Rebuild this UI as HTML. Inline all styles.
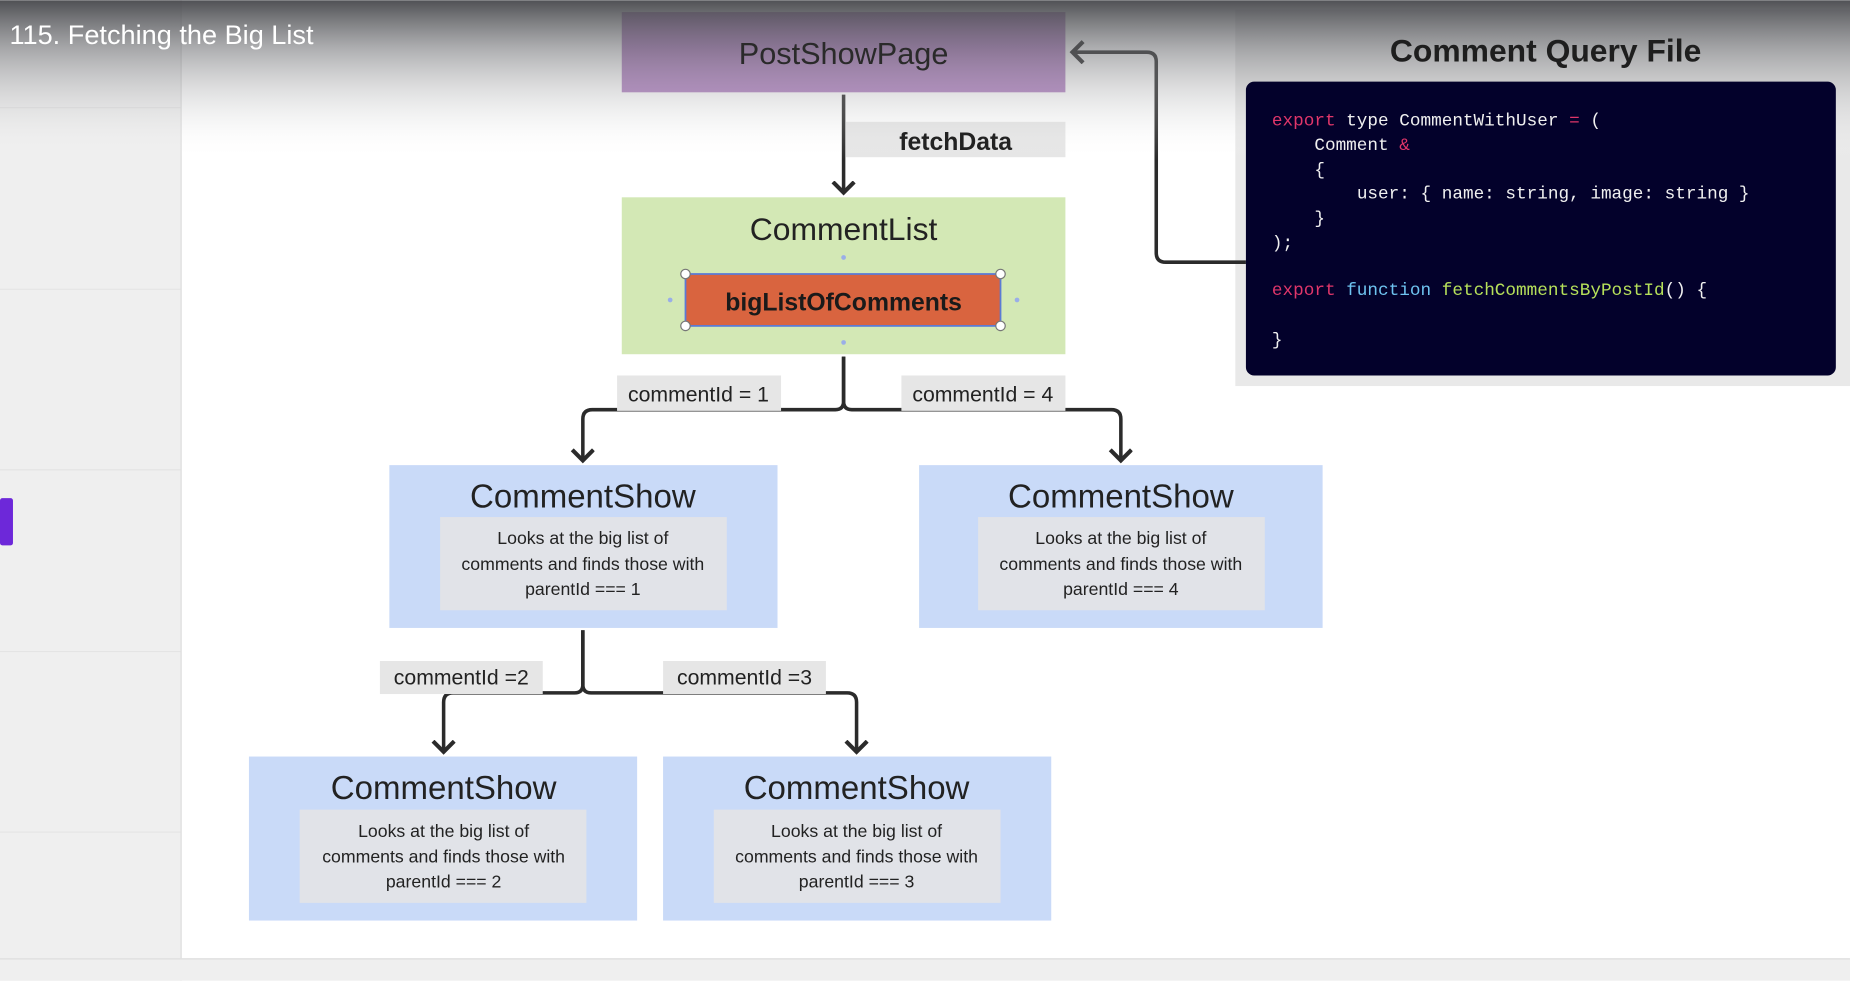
<!DOCTYPE html>
<html><head><meta charset="utf-8"><style>
html,body{margin:0;padding:0;background:#fff;overflow:hidden}
svg{display:block}
</style></head><body>
<svg width="1850" height="981" viewBox="0 0 1568 831" xmlns="http://www.w3.org/2000/svg">
<defs>
<linearGradient id="ov" x1="0" y1="0" x2="0" y2="1">
<stop offset="0" stop-color="#47484c" stop-opacity="0.95"/>
<stop offset="0.3" stop-color="#6a6b6f" stop-opacity="0.55"/>
<stop offset="1" stop-color="#ffffff" stop-opacity="0"/>
</linearGradient>
<marker id="ah" markerWidth="24" markerHeight="24" refX="10" refY="10" orient="auto" markerUnits="userSpaceOnUse"><path d="M1,1 L10,10 L1,19" fill="none" stroke="#2b2b2b" stroke-width="3.5"/></marker>
</defs>
<rect width="1568" height="831" fill="#fff"/>
<rect x="0" y="0" width="153" height="831" fill="#efefef"/>
<line x1="153.5" y1="0" x2="153.5" y2="831" stroke="#dcdcdc"/>
<g stroke="#e4e4e4">
<line x1="0" y1="91" x2="153" y2="91"/><line x1="0" y1="245" x2="153" y2="245"/><line x1="0" y1="398" x2="153" y2="398"/><line x1="0" y1="552" x2="153" y2="552"/><line x1="0" y1="705" x2="153" y2="705"/>
</g>
<rect x="0" y="422" width="11" height="40" rx="2" fill="#6d28d9"/>
<rect x="0" y="812" width="1568" height="19" fill="#efefef"/>
<line x1="0" y1="812.5" x2="1568" y2="812.5" stroke="#dedede"/>
<rect x="527" y="10" width="376" height="68" fill="#b182c2"/>
<rect x="717" y="103" width="186" height="30" fill="#e6e6e6"/>
<line x1="715" y1="80" x2="715" y2="163" stroke="#2b2b2b" stroke-width="3" marker-end="url(#ah)"/>
<rect x="1047" y="8" width="521" height="319" fill="#e9e9e9"/>
<path d="M1056,222 H988 Q980,222 980,214 V52 Q980,44 972,44 H909" fill="none" stroke="#2b2b2b" stroke-width="3" marker-end="url(#ah)"/>
<!-- top overlay -->
<rect x="0" y="0" width="1568" height="135" fill="url(#ov)"/>
<text x="715" y="54" font-family="Liberation Sans, sans-serif" font-size="26" fill="#2a2a2a" text-anchor="middle">PostShowPage</text>
<text x="810" y="127" font-family="Liberation Sans, sans-serif" font-size="21" font-weight="bold" fill="#222" text-anchor="middle">fetchData</text>
<text x="1310" y="52" font-family="Liberation Sans, sans-serif" font-size="27" font-weight="bold" fill="#1e1e1e" text-anchor="middle">Comment Query File</text>
<text x="8" y="37" font-family="Liberation Sans, sans-serif" font-size="23" fill="#fff">115. Fetching the Big List</text>
<rect x="1056" y="69" width="500" height="249" rx="7" fill="#03012b"/>
<g font-family="Liberation Mono, monospace" font-size="15" fill="#f0f0f0" xml:space="preserve">
<text x="1078" y="106"><tspan fill="#e0366a">export</tspan> type CommentWithUser <tspan fill="#e0366a">=</tspan> (</text>
<text x="1114" y="127">Comment <tspan fill="#e0366a">&amp;</tspan></text>
<text x="1114" y="148">{</text>
<text x="1150" y="168">user: { name: string, image: string }</text>
<text x="1114" y="189">}</text>
<text x="1078" y="210">);</text>
<text x="1078" y="250"><tspan fill="#e0366a">export</tspan> <tspan fill="#6ec3f0">function</tspan> <tspan fill="#b6e05a">fetchCommentsByPostId</tspan>() {</text>
<text x="1078" y="292">}</text>
</g>
<!-- CommentList -->
<rect x="527" y="167" width="376" height="133" fill="#d3e8b5"/>
<text x="715" y="203" font-family="Liberation Sans, sans-serif" font-size="27" fill="#222" text-anchor="middle">CommentList</text>
<rect x="581" y="232" width="267" height="44" fill="#d9643f" stroke="#5b7bd5" stroke-width="1.5"/>
<text x="715" y="263" font-family="Liberation Sans, sans-serif" font-size="21" font-weight="bold" fill="#1a1a1a" text-anchor="middle">bigListOfComments</text>
<g fill="#fff" stroke="#777" stroke-width="1"><circle cx="581" cy="232" r="4"/><circle cx="848" cy="232" r="4"/><circle cx="581" cy="276" r="4"/><circle cx="848" cy="276" r="4"/></g>
<g fill="#9aaee8"><circle cx="715" cy="218" r="2"/><circle cx="715" cy="290" r="2"/><circle cx="568" cy="254" r="2"/><circle cx="862" cy="254" r="2"/></g>
<path d="M715,302 V340 Q715,347 708,347 H502 Q494,347 494,355 V390" fill="none" stroke="#2b2b2b" stroke-width="3" marker-end="url(#ah)"/>
<path d="M715,302 V340 Q715,347 722,347 H942 Q950,347 950,355 V390" fill="none" stroke="#2b2b2b" stroke-width="3" marker-end="url(#ah)"/>
<rect x="523" y="318" width="139" height="30" fill="#e6e6e6"/>
<text x="592" y="340" font-family="Liberation Sans, sans-serif" font-size="18" fill="#222" text-anchor="middle">commentId = 1</text>
<rect x="764" y="318" width="139" height="30" fill="#e6e6e6"/>
<text x="833" y="340" font-family="Liberation Sans, sans-serif" font-size="18" fill="#222" text-anchor="middle">commentId = 4</text>
<g font-family="Liberation Sans, sans-serif" fill="#222" text-anchor="middle">
<rect x="330" y="394" width="329" height="138" fill="#c9daf8"/>
<text x="494" y="430" font-size="28">CommentShow</text>
<rect x="373" y="438" width="243" height="79" fill="#e1e3e8"/>
<text x="494" y="461" font-size="15">Looks at the big list of</text>
<text x="494" y="483" font-size="15">comments and finds those with</text>
<text x="494" y="504" font-size="15">parentId === 1</text>
<rect x="779" y="394" width="342" height="138" fill="#c9daf8"/>
<text x="950" y="430" font-size="28">CommentShow</text>
<rect x="829" y="438" width="243" height="79" fill="#e1e3e8"/>
<text x="950" y="461" font-size="15">Looks at the big list of</text>
<text x="950" y="483" font-size="15">comments and finds those with</text>
<text x="950" y="504" font-size="15">parentId === 4</text>
<rect x="211" y="641" width="329" height="139" fill="#c9daf8"/>
<text x="376" y="677" font-size="28">CommentShow</text>
<rect x="254" y="686" width="243" height="79" fill="#e1e3e8"/>
<text x="376" y="709" font-size="15">Looks at the big list of</text>
<text x="376" y="731" font-size="15">comments and finds those with</text>
<text x="376" y="752" font-size="15">parentId === 2</text>
<rect x="562" y="641" width="329" height="139" fill="#c9daf8"/>
<text x="726" y="677" font-size="28">CommentShow</text>
<rect x="605" y="686" width="243" height="79" fill="#e1e3e8"/>
<text x="726" y="709" font-size="15">Looks at the big list of</text>
<text x="726" y="731" font-size="15">comments and finds those with</text>
<text x="726" y="752" font-size="15">parentId === 3</text>
</g>
<path d="M494,534 V580 Q494,587 487,587 H384 Q376,587 376,595 V637" fill="none" stroke="#2b2b2b" stroke-width="3" marker-end="url(#ah)"/>
<path d="M494,534 V580 Q494,587 501,587 H718 Q726,587 726,595 V637" fill="none" stroke="#2b2b2b" stroke-width="3" marker-end="url(#ah)"/>
<rect x="322" y="560" width="138" height="28" fill="#e6e6e6"/>
<text x="391" y="580" font-family="Liberation Sans, sans-serif" font-size="18" fill="#222" text-anchor="middle">commentId =2</text>
<rect x="562" y="560" width="138" height="28" fill="#e6e6e6"/>
<text x="631" y="580" font-family="Liberation Sans, sans-serif" font-size="18" fill="#222" text-anchor="middle">commentId =3</text>
</svg>
</body></html>
